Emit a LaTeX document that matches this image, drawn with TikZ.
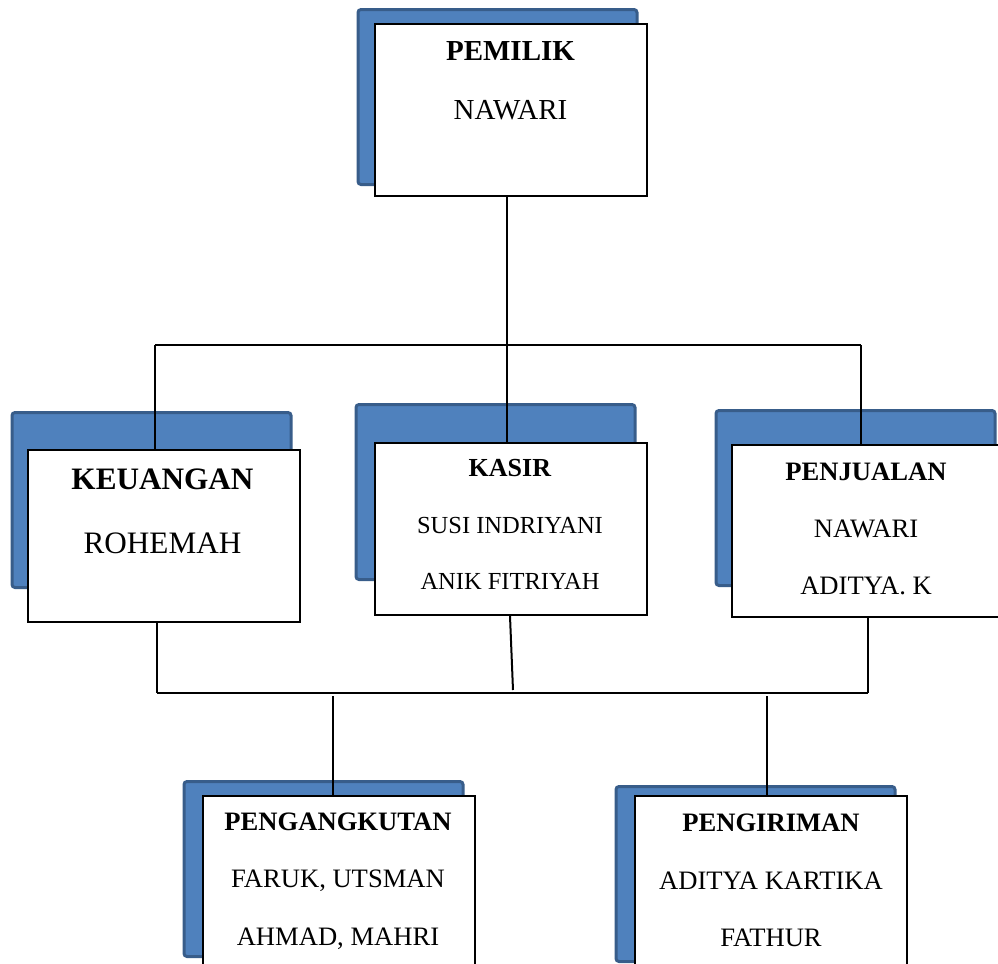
\documentclass[tikz,border=0pt]{standalone}
\usepackage{fontspec}
\setmainfont{Liberation Serif}
\definecolor{shadefill}{HTML}{4F81BD}
\definecolor{shadeline}{HTML}{385D8A}
\tikzset{
    unit/.style={rectangle,draw,fill=white,line width=1pt,
        minimum width=136pt,minimum height=86pt,inner sep=0pt},
    backbox/.style={rectangle,draw=shadeline,fill=shadefill,line width=1.5pt,
        rounded corners=1.5pt,minimum width=139.5pt,minimum height=87.5pt},
    label/.style={align=center,inner sep=0pt,
        font=\fontsize{13.3}{28.5}\selectfont},
    link/.style={draw,line width=1pt},
    bar/.style={draw,line width=1.4pt}}

\begin{document}
\begin{tikzpicture}[x=0.5pt,y=-0.5pt]
\useasboundingbox (0,0) rectangle (998,964);
\clip (0,0) rectangle (998,964);

% shaded boxes behind
\node[backbox] (sh-pemilik)      at (497.5,97)  {};
\node[backbox] (sh-keuangan)     at (151.5,500) {};
\node[backbox] (sh-kasir)        at (495.5,492) {};
\node[backbox] (sh-penjualan)    at (855.5,498) {};
\node[backbox] (sh-pengangkutan) at (323.5,869) {};
\node[backbox] (sh-pengiriman)   at (755.5,874) {};

% white boxes
\node[unit] (pemilik)      at (511,109.5) {};
\node[unit] (keuangan)     at (163.5,536) {};
\node[unit] (kasir)        at (511,529)   {};
\node[unit] (penjualan)    at (867.5,531) {};
\node[unit] (pengangkutan) at (339,882)   {};
\node[unit] (pengiriman)   at (771,882)   {};

% texts
\node[label,font=\fontsize{14.5}{29.5}\selectfont] (t-pemilik) at (510.5,81)
    {\textbf{PEMILIK}\\NAWARI};
\node[label,font=\fontsize{15.6}{32}\selectfont] (t-keuangan) at (162.5,511.5)
    {\textbf{KEUANGAN}\\ROHEMAH};
\node[label,font=\fontsize{12.25}{28.25}\selectfont] (t-kasir) at (510,524.5)
    {{\fontsize{13}{28}\selectfont\textbf{KASIR}}\\SUSI INDRIYANI\\ANIK FITRIYAH};
\node[label] (t-penjualan) at (866,528.5)
    {\textbf{PENJUALAN}\\NAWARI\\ADITYA. K};
\node[label,font=\fontsize{13.3}{28.75}\selectfont] (t-pengangkutan) at (338,881)
    {\textbf{PENGANGKUTAN}\\FARUK, UTSMAN\\AHMAD, MAHRI};
\node[label,font=\fontsize{13.3}{28.75}\selectfont] (t-pengiriman) at (771,880.5)
    {\textbf{PENGIRIMAN}\\ADITYA KARTIKA\\FATHUR};

% joints
\coordinate (topleft)   at (155,345);
\coordinate (topmid)    at (507,345);
\coordinate (topright)  at (861,345);
\coordinate (botleft)   at (157,693);
\coordinate (botmid)    at (513,690);
\coordinate (botright)  at (868,693);
\coordinate (dropleft)  at (333,696);
\coordinate (dropright) at (767,696);

\path[link]
    (pemilik.south -| topmid)   edge (kasir.north -| topmid)
    (topleft)                   edge (topright)
    (topleft)                   edge (keuangan.north -| topleft)
    (topright)                  edge (penjualan.north -| topright)
    (keuangan.south -| botleft) edge (botleft)
    ([xshift=-0.5pt]kasir.south) edge (botmid)
    (penjualan.south -| botright) edge (botright)
    (dropleft)                  edge (pengangkutan.north -| dropleft)
    (dropright)                 edge (pengiriman.north -| dropright);
\path[bar] (botleft) -- (botright);
\end{tikzpicture}
\end{document}
